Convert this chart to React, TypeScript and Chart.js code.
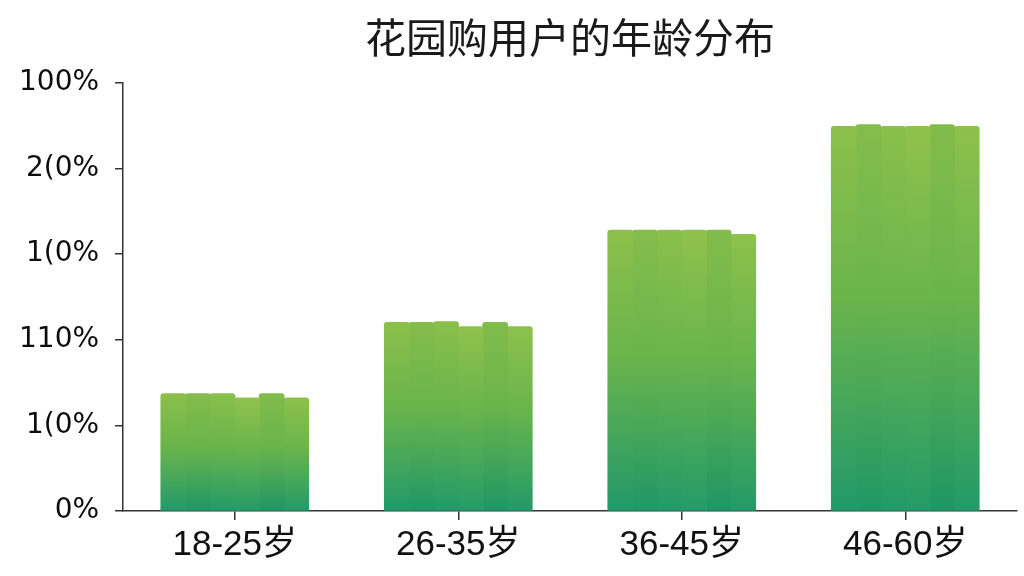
import { useEffect, useRef } from "react";
import Chart from "chart.js/auto";

const categories = ["18-25岁", "26-35岁", "36-45岁", "46-60岁"];
// tick labels exactly as printed on the picture, bottom to top
const yTickLabels = ["0%", "1(0%", "110%", "1(0%", "2(0%", "100%"];
const chartTitle = "花园购用户的年龄分布";

// each age group is drawn as six narrow strips with slightly uneven tops
const strip1 = [1.37, 2.2, 3.28, 4.49];
const strip2 = [1.37, 2.2, 3.28, 4.51];
const strip3 = [1.37, 2.21, 3.28, 4.49];
const strip4 = [1.32, 2.15, 3.28, 4.49];
const strip5 = [1.37, 2.2, 3.28, 4.51];
const strip6 = [1.32, 2.15, 3.23, 4.49];

const strips = [strip1, strip2, strip3, strip4, strip5, strip6];
const topShades = ["#8cc04b", "#84bd4b", "#8ac04b", "#90c24c", "#82bc4b", "#8dc14c"];
const bottomShades = ["#22996a", "#1f9766", "#229a69", "#259b68", "#1e9665", "#239a68"];

// title centred over the plot area rather than the whole canvas
const titlePlugin = {
  id: "plotTitle",
  afterDraw(chart: any) {
    const { ctx, chartArea } = chart;
    ctx.save();
    ctx.font = "41px 'Noto Sans CJK SC', sans-serif";
    ctx.fillStyle = "#1a1a1a";
    ctx.textAlign = "center";
    ctx.textBaseline = "middle";
    ctx.fillText(chartTitle, (chartArea.left + chartArea.right) / 2, 37);
    ctx.restore();
  },
};

export default function App() {
  const canvasRef = useRef<HTMLCanvasElement>(null);
  const chartRef = useRef<Chart | null>(null);

  useEffect(() => {
    document.body.style.margin = "0";
    if (!canvasRef.current) return;
    if (chartRef.current) chartRef.current.destroy();

    chartRef.current = new Chart(canvasRef.current, {
      type: "bar",
      data: {
        labels: categories,
        datasets: strips.map((values, i) => ({
          label: "s" + (i + 1),
          data: values,
          backgroundColor: (ctx: any) => {
            const chart = ctx.chart;
            const { chartArea, scales } = chart;
            if (!chartArea || typeof ctx.raw !== "number") return topShades[i];
            const yTop = scales.y.getPixelForValue(ctx.raw);
            const yBot = scales.y.getPixelForValue(0);
            const g = chart.ctx.createLinearGradient(0, yTop, 0, yBot);
            g.addColorStop(0, topShades[i]);
            g.addColorStop(0.45, "#6ab44c");
            g.addColorStop(1, bottomShades[i]);
            return g;
          },
          borderWidth: 0,
          borderRadius: { topLeft: 3, topRight: 3, bottomLeft: 0, bottomRight: 0 },
          borderSkipped: "bottom",
          inflateAmount: 0.6,
          barPercentage: 1,
          categoryPercentage: 0.66,
        })),
      },
      options: {
        responsive: true,
        maintainAspectRatio: false,
        animation: false,
        layout: { padding: { left: 3, right: 7, top: 83, bottom: 6 } },
        plugins: {
          legend: { display: false },
          tooltip: { enabled: false },
        },
        scales: {
          x: {
            grid: {
              offset: false,
              drawOnChartArea: false,
              drawTicks: true,
              tickLength: 9,
              color: "#333",
              lineWidth: 1.5,
            },
            border: { display: true, color: "#333", width: 1.5 },
            ticks: {
              color: "#111",
              font: { family: "'Liberation Sans', 'Noto Sans CJK SC', sans-serif", size: 35 },
              padding: 4,
            },
          },
          y: {
            min: 0,
            max: 5,
            grid: {
              drawOnChartArea: false,
              drawTicks: true,
              tickLength: 8,
              color: "#333",
              lineWidth: 1.5,
            },
            border: { display: true, color: "#333", width: 1.5 },
            ticks: {
              stepSize: 1,
              color: "#0d0d0d",
              font: { family: "'DejaVu Sans', sans-serif", size: 28 },
              padding: 16,
              callback: (_v: any, index: number) => yTickLabels[index],
            },
          },
        },
      },
      plugins: [titlePlugin],
    });

    return () => {
      if (chartRef.current) {
        chartRef.current.destroy();
        chartRef.current = null;
      }
    };
  }, []);

  return (
    <div style={{ width: 1024, height: 576, position: "relative" }}>
      <canvas ref={canvasRef}></canvas>
    </div>
  );
}
